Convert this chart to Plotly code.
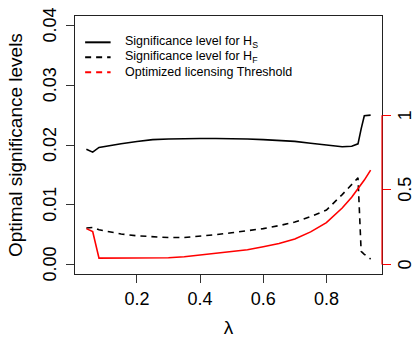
import plotly.graph_objects as go

# lambda grid
lam = [0.04, 0.06, 0.08, 0.10, 0.15, 0.20, 0.25, 0.30, 0.35, 0.40, 0.45, 0.50,
       0.55, 0.60, 0.65, 0.70, 0.75, 0.80, 0.85, 0.88, 0.90, 0.91, 0.92, 0.94]

# significance level for H_S (left axis)
sig_hs = [0.0193, 0.0188, 0.0196, 0.0198, 0.0202, 0.0206, 0.0209, 0.0210, 0.0211, 0.0211,
          0.0211, 0.0211, 0.0210, 0.0209, 0.0208, 0.0206, 0.0203, 0.0200, 0.0197, 0.0198,
          0.0202, 0.0227, 0.0249, 0.0250]

# significance level for H_F (left axis)
sig_hf = [0.0061, 0.0062, 0.0058, 0.0056, 0.0051, 0.0048, 0.0046, 0.0045, 0.0045, 0.0047,
          0.0050, 0.0053, 0.0056, 0.0060, 0.0065, 0.0071, 0.0080, 0.0091, 0.0117, 0.0134,
          0.0145, 0.0022, 0.0017, 0.0009]

# optimized licensing threshold (right axis)
threshold = [0.24, 0.22, 0.042, 0.042, 0.042, 0.042, 0.042, 0.045, 0.052, 0.064,
             0.074, 0.085, 0.098, 0.118, 0.140, 0.170, 0.218, 0.280, 0.378, 0.450,
             0.505, 0.535, 0.565, 0.632]

left_ticks = [0.0, 0.01, 0.02, 0.03, 0.04]
left_labels = ["0.00", "0.01", "0.02", "0.03", "0.04"]
right_ticks = [0, 0.5, 1]
right_labels = ["0", "0.5", "1"]
x_ticks = [0.2, 0.4, 0.6, 0.8]
x_labels = ["0.2", "0.4", "0.6", "0.8"]

legend_labels = ["Significance level for H<sub>S</sub>",
                 "Significance level for H<sub>F</sub>",
                 "Optimized licensing Threshold"]
legend_colors = ["black", "black", "red"]
legend_dash = ["solid", "6px,5px", "6px,5px"]

FONT = "Liberation Sans, Arial, sans-serif"
DASH = "6px,5px"

fig = go.Figure()
fig.add_trace(go.Scatter(x=lam, y=sig_hs, mode="lines",
                         line=dict(color="black", width=1.6), showlegend=False))
fig.add_trace(go.Scatter(x=lam, y=sig_hf, mode="lines",
                         line=dict(color="black", width=1.6, dash=DASH), showlegend=False))
fig.add_trace(go.Scatter(x=lam, y=threshold, mode="lines", yaxis="y2",
                         line=dict(color="red", width=1.6), showlegend=False))

# legend drawn in the upper-left corner of the panel
rows_y = [0.898, 0.840, 0.782]
for label, col, dsh, yy in zip(legend_labels, legend_colors, legend_dash, rows_y):
    fig.add_shape(type="line", xref="paper", yref="paper", x0=0.033, x1=0.116,
                  y0=yy, y1=yy, line=dict(color=col, width=2, dash=dsh))
    fig.add_annotation(xref="paper", yref="paper", x=0.155, y=yy, text=label,
                       showarrow=False, xanchor="left", yanchor="middle",
                       font=dict(family=FONT, size=12.5, color="black"))

# rotated tick labels for both vertical axes, reading bottom to top
for v, t in zip(left_ticks, left_labels):
    fig.add_annotation(xref="paper", yref="y", x=0, y=v, text=t, textangle=-90,
                       showarrow=False, xanchor="center", yanchor="middle", xshift=-25,
                       font=dict(family=FONT, size=18, color="black"))
for v, t in zip(right_ticks, right_labels):
    fig.add_annotation(xref="paper", yref="y2", x=1, y=v, text=t, textangle=-90,
                       showarrow=False, xanchor="center", yanchor="middle", xshift=23,
                       font=dict(family=FONT, size=18, color="black"))

# y-axis title
fig.add_annotation(xref="paper", yref="paper", x=0, y=0.5, text="Optimal significance levels",
                   textangle=-90, showarrow=False, xanchor="center", yanchor="middle",
                   xshift=-60, font=dict(family=FONT, size=19, color="black"))

# red right-hand axis line spanning its tick range
fig.add_shape(type="line", xref="paper", yref="y2", x0=1, x1=1,
              y0=right_ticks[0], y1=right_ticks[-1], line=dict(color="red", width=1.2))

fig.update_layout(
    width=412, height=338,
    margin=dict(l=75, r=30, t=16, b=64, autoexpand=False),
    paper_bgcolor="white", plot_bgcolor="white",
    font=dict(family=FONT, size=18, color="black"),
    xaxis=dict(range=[0.004, 0.976], tickvals=x_ticks, ticktext=x_labels,
               ticks="outside", ticklen=8, tickcolor="#333", tickwidth=1,
               showline=True, linecolor="#222", linewidth=1, mirror=True,
               showgrid=False, zeroline=False, automargin=False,
               title=dict(text="λ", font=dict(size=19), standoff=14)),
    yaxis=dict(range=[-0.0016, 0.0416], tickvals=left_ticks, showticklabels=False,
               ticks="outside", ticklen=8, tickcolor="#333", tickwidth=1,
               showline=True, linecolor="#222", linewidth=1, mirror=True,
               showgrid=False, zeroline=False, automargin=False),
    yaxis2=dict(range=[-0.064, 1.664], overlaying="y", side="right",
                tickvals=right_ticks, showticklabels=False,
                ticks="outside", ticklen=8, tickcolor="red", tickwidth=1,
                automargin=False, showline=False, showgrid=False, zeroline=False),
)

fig.write_html("out.html")
